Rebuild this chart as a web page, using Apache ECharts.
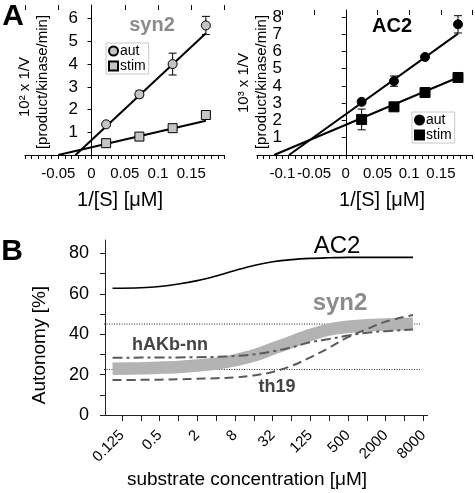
<!DOCTYPE html>
<html><head><meta charset="utf-8">
<script src="https://cdn.jsdelivr.net/npm/echarts@6/dist/echarts.min.js"></script>
<style>html,body{margin:0;padding:0;background:#fff}#c{width:475px;height:493px}</style>
</head><body><div id="c"></div><script>
// ---------- Panel A (left): syn2, Lineweaver-Burk ----------
const synX = [0.022, 0.072, 0.122, 0.172];
const synAut = [1.35, 2.67, 4.0, 5.7];
const synAutErr = [0.05, 0.15, 0.48, 0.4];
const synStim = [0.52, 0.81, 1.18, 1.76];
const synStimErr = [0, 0, 0, 0];
const synAutFit = [[-0.024, 0], [0.172, 5.36]];
const synStimFit = [[-0.05, 0], [0.172, 1.51]];
const synXLabels = [-0.05, 0, 0.05, 0.1, 0.15];
const synYLabels = [1, 2, 3, 4, 5, 6];

// ---------- Panel A (right): AC2 ----------
const acX = [0.025, 0.076, 0.125, 0.177];
const acAut = [3.08, 4.28, 5.68, 7.57];
const acAutErr = [0.1, 0.3, 0.1, 0.5];
const acStim = [2.06, 2.79, 3.62, 4.49];
const acStimErr = [0.6, 0.1, 0.1, 0.1];
const acAutFit = [[-0.0895, 0], [0.177, 7.03]];
const acStimFit = [[-0.113, 0], [0.177, 4.49]];
const acXLabels = [-0.1, -0.05, 0, 0.05, 0.1, 0.15];
const acYLabels = [1, 2, 3, 4, 5, 6, 7, 8];

// ---------- Panel B: autonomy vs substrate concentration (x = log2 of µM) ----------
const bLogX  = [-3.5, -2, -1, 0, 1, 2, 3, 4, 5, 6, 7, 8, 9, 10, 11, 12.45];
const bAC2   = [62.7, 63.0, 63.6, 64.8, 66.5, 68.8, 71.5, 74.0, 75.8, 76.9, 77.5, 77.8, 78, 78, 78, 78];
const bSyn2  = [22.9, 23.1, 23.4, 23.8, 24.5, 25.4, 27.1, 29.4, 32.8, 36.2, 39.6, 42.3, 43.7, 44.4, 44.8, 45.2];
const bHAKb  = [28.3, 28.4, 28.4, 28.5, 28.6, 28.8, 29.2, 30.0, 31.5, 33.5, 36.0, 37.6, 39.3, 40.7, 41.5, 42.3];
const bTh19  = [17.3, 17.4, 17.5, 17.7, 17.9, 18.2, 18.6, 19.6, 21.3, 24.3, 28.5, 33.3, 38.5, 42.5, 46.2, 49.5];
const refLevels = [45, 22.5];
const refSpan = [-3.95, 12.83];
const bTickPow = [-3, -1, 1, 3, 5, 7, 9, 11, 13];
const bTickLabels = ['0.125', '0.5', '2', '8', '32', '125', '500', '2000', '8000'];
const bYLabels = [0, 20, 40, 60, 80];

const FONT = '"Liberation Sans", Arial, Helvetica, sans-serif';
const r3 = v => Math.round(v * 1000) / 1000;
function steps(a, b, s) { const o = []; for (let v = a; v <= b + 1e-9; v += s) o.push(r3(v)); return o; }
const zip = (xs, ys) => xs.map((x, i) => [x, ys[i]]);

function errBars(xs, ys, es, xi, yi, cap) {
  return {
    type: 'custom', xAxisIndex: xi, yAxisIndex: yi, silent: true, z: 3,
    encode: { x: 0, y: 1 },
    data: xs.map((x, i) => [x, ys[i], es[i]]),
    renderItem: (params, api) => {
      const x = api.value(0), y = api.value(1), e = api.value(2);
      if (!e) return null;
      const t = api.coord([x, y + e]), b = api.coord([x, y - e]);
      const st = { stroke: '#000', lineWidth: 1 };
      return { type: 'group', children: [
        { type: 'line', shape: { x1: t[0], y1: t[1], x2: b[0], y2: b[1] }, style: st },
        { type: 'line', shape: { x1: t[0] - cap, y1: t[1], x2: t[0] + cap, y2: t[1] }, style: st },
        { type: 'line', shape: { x1: b[0] - cap, y1: b[1], x2: b[0] + cap, y2: b[1] }, style: st }
      ]};
    }
  };
}
function fitLine(data, xi, yi) {
  return { type: 'line', xAxisIndex: xi, yAxisIndex: yi, data: data, symbol: 'none', silent: true, z: 2,
    lineStyle: { color: '#000', width: 2 } };
}
function scat(name, xs, ys, xi, yi, sym, size, fill) {
  return { type: 'scatter', name: name, xAxisIndex: xi, yAxisIndex: yi, data: zip(xs, ys), symbol: sym,
    symbolSize: size, z: 4, itemStyle: { color: fill, borderColor: '#000', borderWidth: 1, opacity: 1 } };
}
function curve(ys, color, width, type, z) {
  return { type: 'line', xAxisIndex: 4, yAxisIndex: 2, data: zip(bLogX, ys), symbol: 'none', smooth: 0.35,
    silent: true, z: z, lineStyle: { color: color, width: width, type: type, cap: 'butt' } };
}

function topX(grid, min, max, labels, minorVals) {
  return [
    { type: 'value', gridIndex: grid, min: min, max: max, splitLine: { show: false },
      axisLine: { show: true, onZero: false, lineStyle: { color: '#000', width: 1 } },
      axisTick: { show: true, inside: false, length: 4, customValues: minorVals, lineStyle: { color: '#000' } },
      axisLabel: { customValues: labels, fontSize: 15, fontFamily: FONT, color: '#000', margin: 11,
        showMinLabel: true, showMaxLabel: true, hideOverlap: false, formatter: v => String(v) } },
    { type: 'value', gridIndex: grid, min: min, max: max, splitLine: { show: false },
      axisLine: { show: false, onZero: false },
      axisTick: { show: true, inside: true, length: 5, customValues: steps(-0.15, 0.2, 0.05).filter(v => v >= min && v <= max), lineStyle: { color: '#000' } },
      axisLabel: { show: false } }
  ];
}

const option = {
  animation: false,
  backgroundColor: '#fff',
  textStyle: { fontFamily: FONT },
  grid: [
    { left: 25, top: 5, width: 199.5, height: 150, containLabel: false, outerBoundsMode: 'none' },
    { left: 257, top: 10, width: 215.6, height: 145, containLabel: false, outerBoundsMode: 'none' },
    { left: 105, top: 240, width: 322.7, height: 175, containLabel: false, outerBoundsMode: 'none' }
  ],
  xAxis: [
    ...topX(0, -0.1, 0.2, synXLabels, steps(-0.1, 0.2, 0.01)),
    ...topX(1, -0.14, 0.2, acXLabels, steps(-0.14, 0.2, 0.01)),
    { type: 'value', gridIndex: 2, min: -3.9, max: 13.23, splitLine: { show: false },
      axisLine: { show: true, onZero: false, lineStyle: { color: '#222', width: 1 } },
      axisTick: { show: true, length: 6, customValues: steps(-3, 13, 1), lineStyle: { color: '#222' } },
      axisLabel: { customValues: bTickPow, rotate: 45, fontSize: 15, fontFamily: FONT, color: '#000', margin: 18,
        showMinLabel: true, showMaxLabel: true, hideOverlap: false,
        formatter: v => bTickLabels[bTickPow.indexOf(Math.round(v))] } }
  ],
  yAxis: [
    { type: 'value', gridIndex: 0, min: 0, max: 6.6, splitLine: { show: false },
      axisLine: { show: true, onZero: true, onZeroAxisIndex: 0, lineStyle: { color: '#000', width: 1 } },
      axisTick: { show: true, length: 4, customValues: synYLabels, lineStyle: { color: '#000' } },
      axisLabel: { customValues: synYLabels, fontSize: 17, fontFamily: FONT, color: '#000', margin: -53,
        showMinLabel: true, showMaxLabel: true } },
    { type: 'value', gridIndex: 1, min: 0, max: 8.4, splitLine: { show: false },
      axisLine: { show: true, onZero: true, onZeroAxisIndex: 2, lineStyle: { color: '#000', width: 1 } },
      axisTick: { show: true, length: 4, customValues: acYLabels, lineStyle: { color: '#000' } },
      axisLabel: { customValues: acYLabels, fontSize: 17, fontFamily: FONT, color: '#000', margin: -25,
        showMinLabel: true, showMaxLabel: true } },
    { type: 'value', gridIndex: 2, min: 0, max: 86.6, splitLine: { show: false },
      axisLine: { show: true, onZero: false, lineStyle: { color: '#222', width: 1 } },
      axisTick: { show: true, length: 5, customValues: steps(0, 80, 10), lineStyle: { color: '#222' } },
      axisLabel: { customValues: bYLabels, fontSize: 18, fontFamily: FONT, color: '#000', margin: 16,
        showMinLabel: true, showMaxLabel: true } }
  ],
  legend: [
    { data: ['syn2-aut', 'syn2-stim'], orient: 'vertical', left: 106, top: 43, selectedMode: false,
      formatter: n => n.split('-')[1], borderColor: '#c8c8c8', borderWidth: 1, padding: [1, 3, 1, 2],
      itemGap: 1, itemWidth: 9, itemHeight: 9, textStyle: { fontSize: 14, fontFamily: FONT, color: '#000', padding: [0, 0, 0, -3] } },
    { data: ['AC2-aut', 'AC2-stim'], orient: 'vertical', left: 412, top: 112, selectedMode: false,
      formatter: n => n.split('-')[1], borderColor: '#c8c8c8', borderWidth: 1, padding: [1, 3, 1, 2],
      itemGap: 1, itemWidth: 9, itemHeight: 9, textStyle: { fontSize: 14, fontFamily: FONT, color: '#000', padding: [0, 0, 0, -3] } }
  ],
  series: [
    fitLine(synAutFit, 0, 0), fitLine(synStimFit, 0, 0),
    errBars(synX, synAut, synAutErr, 0, 0, 4), errBars(synX, synStim, synStimErr, 0, 0, 4),
    scat('syn2-aut', synX, synAut, 0, 0, 'circle', 9, '#c4c4c4'),
    scat('syn2-stim', synX, synStim, 0, 0, 'rect', 9, '#c4c4c4'),
    fitLine(acAutFit, 2, 1), fitLine(acStimFit, 2, 1),
    errBars(acX, acAut, acAutErr, 2, 1, 4), errBars(acX, acStim, acStimErr, 2, 1, 4),
    scat('AC2-aut', acX, acAut, 2, 1, 'circle', 9, '#000'),
    scat('AC2-stim', acX, acStim, 2, 1, 'rect', 10, '#000'),
    ...refLevels.map(lv => ({ type: 'line', xAxisIndex: 4, yAxisIndex: 2, data: [[refSpan[0], lv], [refSpan[1], lv]],
      symbol: 'none', silent: true, clip: false, z: 1, lineStyle: { color: '#222', width: 1, type: [1, 1.5] } })),
    curve(bSyn2, '#b3b3b3', 12.5, 'solid', 2),
    curve(bTh19, '#5a5a5a', 2, [9, 5], 3),
    curve(bHAKb, '#5a5a5a', 2, [10, 4, 3, 4], 3),
    curve(bAC2, '#000', 1.6, 'solid', 4)
  ],
  graphic: [
    { type: 'text', x: 13, y: 17, style: { text: 'A', fontSize: 30, fontWeight: 'bold', fontFamily: FONT, fill: '#000', align: 'center', verticalAlign: 'middle' } },
    { type: 'text', x: 12, y: 252, style: { text: 'B', fontSize: 30, fontWeight: 'bold', fontFamily: FONT, fill: '#000', align: 'center', verticalAlign: 'middle' } },
    { type: 'text', x: 152, y: 25, style: { text: 'syn2', fontSize: 20, fontWeight: 'bold', fontFamily: FONT, fill: '#8c8c8c', align: 'center', verticalAlign: 'middle' } },
    { type: 'text', x: 392, y: 26, style: { text: 'AC2', fontSize: 20, fontWeight: 'bold', fontFamily: FONT, fill: '#000', align: 'center', verticalAlign: 'middle' } },
    { type: 'text', x: 120, y: 200, style: { text: '1/[S] [μM]', fontSize: 20, fontFamily: FONT, fill: '#000', align: 'center', verticalAlign: 'middle' } },
    { type: 'text', x: 382, y: 200, style: { text: '1/[S] [μM]', fontSize: 20, fontFamily: FONT, fill: '#000', align: 'center', verticalAlign: 'middle' } },
    { type: 'text', x: 25, y: 87, rotation: Math.PI / 2, style: { text: '10² x 1/V', fontSize: 15, fontFamily: FONT, fill: '#000', align: 'center', verticalAlign: 'middle' } },
    { type: 'text', x: 43, y: 82, rotation: Math.PI / 2, style: { text: '[product/kinase/min]', fontSize: 15, fontFamily: FONT, fill: '#000', align: 'center', verticalAlign: 'middle' } },
    { type: 'text', x: 244, y: 83, rotation: Math.PI / 2, style: { text: '10³ x 1/V', fontSize: 15, fontFamily: FONT, fill: '#000', align: 'center', verticalAlign: 'middle' } },
    { type: 'text', x: 262, y: 82, rotation: Math.PI / 2, style: { text: '[product/kinase/min]', fontSize: 15, fontFamily: FONT, fill: '#000', align: 'center', verticalAlign: 'middle' } },
    { type: 'text', x: 337, y: 246, style: { text: 'AC2', fontSize: 24, fontFamily: FONT, fill: '#000', align: 'center', verticalAlign: 'middle' } },
    { type: 'text', x: 340, y: 303, style: { text: 'syn2', fontSize: 24, fontWeight: 'bold', fontFamily: FONT, fill: '#8c8c8c', align: 'center', verticalAlign: 'middle' } },
    { type: 'text', x: 170, y: 345, style: { text: 'hAKb-nn', fontSize: 18, fontWeight: 'bold', fontFamily: FONT, fill: '#444', align: 'center', verticalAlign: 'middle' } },
    { type: 'text', x: 277, y: 387, style: { text: 'th19', fontSize: 18, fontWeight: 'bold', fontFamily: FONT, fill: '#444', align: 'center', verticalAlign: 'middle' } },
    { type: 'text', x: 40, y: 345, rotation: Math.PI / 2, style: { text: 'Autonomy [%]', fontSize: 19, fontFamily: FONT, fill: '#000', align: 'center', verticalAlign: 'middle' } },
    { type: 'text', x: 247, y: 480, style: { text: 'substrate concentration [μM]', fontSize: 19, fontFamily: FONT, fill: '#000', align: 'center', verticalAlign: 'middle' } }
  ]
};
const chart = echarts.init(document.getElementById('c'), null, { renderer: 'canvas' });
chart.setOption(option);
</script></body></html>
